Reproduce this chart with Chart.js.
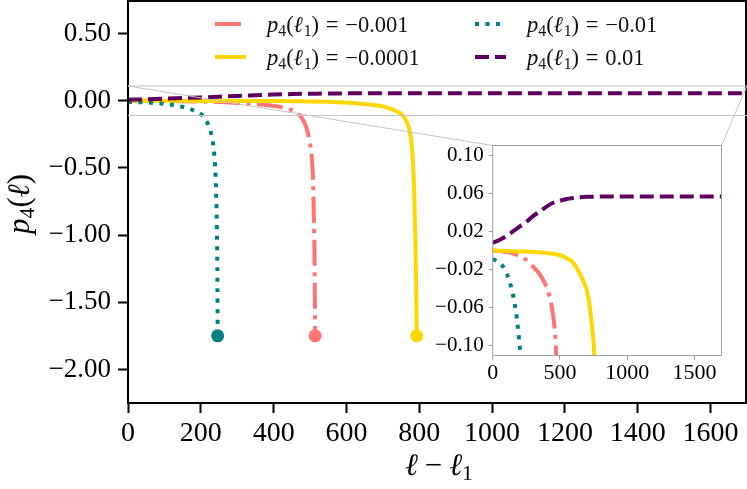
<!DOCTYPE html>
<html><head><meta charset="utf-8">
<script src="https://cdn.jsdelivr.net/npm/chart.js@4"></script>
<style>
html,body{margin:0;padding:0;background:#fff;}
#wrap{position:relative;width:747px;height:489px;overflow:hidden;}
canvas{position:absolute;left:0;top:0;}
</style></head><body>
<div id="wrap"><canvas id="main" width="747" height="489"></canvas><canvas id="inset" width="747" height="489"></canvas></div>
<script>
// ---------- data ----------
const xTicks = [0, 200, 400, 600, 800, 1000, 1200, 1400, 1600];
const xTickLabels = ['0', '200', '400', '600', '800', '1000', '1200', '1400', '1600'];
const yTicks = [-2, -1.5, -1, -0.5, 0, 0.5];
const yTickLabels = ['\u22122.00', '\u22121.50', '\u22121.00', '\u22120.50', '0.00', '0.50'];
const insetXTicks = [0, 500, 1000, 1500];
const insetXTickLabels = ['0', '500', '1000', '1500'];
const insetYTicks = [-0.10, -0.06, -0.02, 0.02, 0.06, 0.10];
const insetYTickLabels = ['\u22120.10', '\u22120.06', '\u22120.02', '0.02', '0.06', '0.10'];

const legendValues = ['\u22120.001', '\u22120.0001', '\u22120.01', '0.01'];

// p4(l1) = -0.001
const pinkX = [0, 50, 100, 150, 200, 250, 300, 350, 390, 420, 440, 455, 465, 475, 485, 494, 500, 505, 508, 510, 512, 513, 514];
const pinkY = [0, -0.0005, -0.0015, -0.003, -0.006, -0.01, -0.017, -0.025, -0.035, -0.047, -0.06, -0.075, -0.09, -0.12, -0.165, -0.24, -0.32, -0.43, -0.58, -0.8, -1.1, -1.4, -1.75];
// p4(l1) = -0.0001
const yellowX = [0, 100, 200, 300, 400, 450, 500, 550, 600, 650, 680, 700, 720, 740, 755, 765, 772, 778, 783, 786, 789, 791, 792.3, 793];
const yellowY = [0, -0.0005, -0.001, -0.0015, -0.0025, -0.0035, -0.005, -0.008, -0.013, -0.025, -0.034, -0.042, -0.058, -0.082, -0.11, -0.155, -0.21, -0.3, -0.48, -0.68, -1.0, -1.3, -1.55, -1.75];
// p4(l1) = -0.01
const tealX = [0, 30, 60, 90, 120, 145, 165, 180, 195, 205, 214, 222, 228, 235, 239, 242, 244, 245.5, 246.3];
const tealY = [-0.009, -0.011, -0.014, -0.02, -0.03, -0.043, -0.057, -0.072, -0.092, -0.11, -0.145, -0.19, -0.24, -0.35, -0.48, -0.68, -0.95, -1.3, -1.75];
// p4(l1) = 0.01
const purpleX = [0, 50, 100, 150, 200, 250, 300, 350, 400, 450, 500, 550, 600, 650, 700, 800, 900, 1000, 1200, 1400, 1700];
const purpleY = [0.008, 0.011, 0.015, 0.02, 0.025, 0.03, 0.036, 0.041, 0.046, 0.05, 0.052, 0.054, 0.055, 0.0558, 0.0562, 0.0565, 0.0566, 0.0566, 0.0566, 0.0566, 0.0566];
// end points (blow-up markers)
const endX = [246.3, 514, 793];
const endY = [-1.75, -1.75, -1.75];

// ---------- styles ----------
const PINK = '#ff7474', YELLOW = '#ffd700', TEAL = '#008080', PURPLE = '#5f0060';
const FAM = "'Liberation Serif', 'DejaVu Serif', serif";
const LW = 4;
const DASH = { pink: [26, 6.5, 4, 6.5], yellow: [], teal: [4, 6.5], purple: [14, 6] };

const pts = (xs, ys) => xs.map((x, i) => ({ x: x, y: ys[i] }));

function lineSet(xs, ys, color, dash, order) {
  return { data: pts(xs, ys), showLine: true, borderColor: color, borderWidth: LW, borderDash: dash,
    pointRadius: 0, fill: false, cubicInterpolationMode: 'monotone', order: order };
}

// parts: [text, style]; style 'i' italic, 's' subscript, 'n' normal, 'g' gap (text = em)
function drawMath(ctx, parts, x, y, size, align) {
  let w = 0;
  const items = parts.map(([t, s]) => {
    if (s === 'g') { const tw = t * size; w += tw; return { t: '', font: null, tw, dy: 0 }; }
    const fs = s === 's' ? size * 0.7 : size;
    const font = (s === 'i' ? 'italic ' : '') + fs + 'px ' + FAM;
    ctx.font = font;
    const tw = ctx.measureText(t).width;
    w += tw;
    return { t, font, tw, dy: s === 's' ? size * 0.16 : 0 };
  });
  let cx = align === 'center' ? x - w / 2 : x;
  ctx.textAlign = 'left'; ctx.textBaseline = 'alphabetic';
  items.forEach(it => { if (it.font) { ctx.font = it.font; ctx.fillText(it.t, cx, y + it.dy); } cx += it.tw; });
}

const mainDeco = {
  id: 'mainDeco',
  afterDraw(chart) {
    const ctx = chart.ctx, a = chart.chartArea;
    ctx.save();
    // frame
    ctx.strokeStyle = '#000'; ctx.lineWidth = 2; ctx.setLineDash([]);
    ctx.strokeRect(a.left, a.top + 1, a.right - a.left - 1, a.bottom - a.top - 1);
    ctx.fillStyle = '#000';
    // axis titles
    drawMath(ctx, [['\u2113', 'i'], [0.22, 'g'], ['\u2212', 'n'], [0.22, 'g'], ['\u2113', 'i'], ['1', 's']], 439, 475, 31, 'center');
    ctx.save(); ctx.translate(29, 204); ctx.rotate(-Math.PI / 2);
    drawMath(ctx, [['p', 'i'], ['4', 's'], ['(', 'n'], ['\u2113', 'i'], [')', 'n']], 0, 0, 31, 'center');
    ctx.restore();
    // legend
    const entries = [
      { c: PINK, d: DASH.pink, x: 215, y: 24, v: legendValues[0] },
      { c: YELLOW, d: DASH.yellow, x: 215, y: 57, v: legendValues[1] },
      { c: TEAL, d: DASH.teal, x: 475, y: 24, v: legendValues[2] },
      { c: PURPLE, d: DASH.purple, x: 475, y: 57, v: legendValues[3] }
    ];
    entries.forEach(e => {
      ctx.strokeStyle = e.c; ctx.lineWidth = LW; ctx.lineCap = 'butt'; ctx.setLineDash(e.d);
      ctx.beginPath(); ctx.moveTo(e.x, e.y); ctx.lineTo(e.x + 31, e.y); ctx.stroke();
      ctx.setLineDash([]);
      ctx.fillStyle = '#111';
      const val = e.v.startsWith('\u2212') ? [['\u2212', 'n'], [e.v.slice(1), 'n']] : [[e.v, 'n']];
      drawMath(ctx, [['p', 'i'], ['4', 's'], ['(', 'n'], ['\u2113', 'i'], [0.03, 'g'], ['1', 's'], [')', 'n'],
        [0.3, 'g'], ['=', 'n'], [0.3, 'g']].concat(val), e.x + 52, e.y + 8, 22.5, 'left');
    });
    ctx.restore();
  }
};

const mainChart = new Chart(document.getElementById('main'), {
  type: 'scatter',
  data: { datasets: [
    lineSet(pinkX, pinkY, PINK, DASH.pink, 4),
    lineSet(yellowX, yellowY, YELLOW, DASH.yellow, 3),
    lineSet(tealX, tealY, TEAL, DASH.teal, 2),
    lineSet(purpleX, purpleY, PURPLE, DASH.purple, 1),
    { data: pts(endX, endY), showLine: false, pointRadius: 6.5, pointHoverRadius: 6.5, borderWidth: 0,
      backgroundColor: [TEAL, PINK, YELLOW], pointBackgroundColor: [TEAL, PINK, YELLOW], order: 0 }
  ] },
  options: {
    responsive: false, animation: false, devicePixelRatio: 1,
    layout: { autoPadding: false, padding: { left: 0, right: 0, top: 0, bottom: 0 } },
    plugins: { legend: { display: false }, tooltip: { enabled: false } },
    scales: {
      x: { type: 'linear', min: 0, max: 1700,
        afterBuildTicks: s => { s.ticks = xTicks.map(v => ({ value: v })); },
        afterFit: s => { s.height = 86; s.paddingLeft = 0; s.paddingRight = 0; },
        grid: { drawOnChartArea: false, drawTicks: true, tickLength: 10, tickWidth: 2, tickColor: '#000' },
        border: { display: false },
        ticks: { autoSkip: false, maxRotation: 0, padding: 4, color: '#000', font: { family: FAM, size: 28 },
          callback: (v, i) => xTickLabels[i] } },
      y: { type: 'linear', min: -2.25, max: 0.75,
        afterBuildTicks: s => { s.ticks = yTicks.map(v => ({ value: v })); },
        afterFit: s => { s.width = 128; s.paddingTop = 0; s.paddingBottom = 0; },
        grid: { drawOnChartArea: false, drawTicks: true, tickLength: 10, tickWidth: 2, tickColor: '#000' },
        border: { display: false },
        ticks: { autoSkip: false, padding: 7, color: '#000', font: { family: FAM, size: 27 },
          callback: (v, i) => yTickLabels[i] } }
    }
  },
  plugins: [mainDeco]
});

const insetDeco = {
  id: 'insetDeco',
  beforeDraw(chart) {
    const ctx = chart.ctx, a = chart.chartArea;
    const mx = mainChart.scales.x, my = mainChart.scales.y;
    const x0 = mx.getPixelForValue(0), x1 = mx.getPixelForValue(1700);
    const yt = my.getPixelForValue(0.11), yb = my.getPixelForValue(-0.11);
    ctx.save();
    ctx.strokeStyle = '#c4c4c4'; ctx.lineWidth = 1;
    ctx.beginPath();
    ctx.moveTo(x0, yt); ctx.lineTo(x1, yt);
    ctx.moveTo(x0, yb); ctx.lineTo(x1, yb);
    ctx.moveTo(x0, yt); ctx.lineTo(a.left, a.top);
    ctx.moveTo(x1, yt); ctx.lineTo(a.right, a.top);
    ctx.stroke();
    ctx.fillStyle = '#fff';
    ctx.fillRect(a.left, a.top, a.right - a.left, a.bottom - a.top);
    ctx.restore();
  },
  afterDraw(chart) {
    const ctx = chart.ctx, a = chart.chartArea;
    ctx.save();
    ctx.strokeStyle = '#a0a0a0'; ctx.lineWidth = 1;
    ctx.strokeRect(a.left, a.top, a.right - a.left, a.bottom - a.top);
    ctx.restore();
  }
};

const insetChart = new Chart(document.getElementById('inset'), {
  type: 'scatter',
  data: { datasets: [
    lineSet(pinkX, pinkY, PINK, DASH.pink, 4),
    lineSet(yellowX, yellowY, YELLOW, DASH.yellow, 3),
    lineSet(tealX, tealY, TEAL, DASH.teal, 2),
    lineSet(purpleX, purpleY, PURPLE, DASH.purple, 1)
  ] },
  options: {
    responsive: false, animation: false, devicePixelRatio: 1,
    layout: { autoPadding: false, padding: { left: 432.7, right: 25.5, top: 145.5, bottom: 103.5 } },
    plugins: { legend: { display: false }, tooltip: { enabled: false } },
    scales: {
      x: { type: 'linear', min: 0, max: 1700,
        afterBuildTicks: s => { s.ticks = insetXTicks.map(v => ({ value: v })); },
        afterFit: s => { s.height = 30; s.paddingLeft = 0; s.paddingRight = 0; },
        grid: { drawOnChartArea: false, drawTicks: true, tickLength: 4, tickWidth: 1, tickColor: '#999' },
        border: { display: false },
        ticks: { autoSkip: false, maxRotation: 0, padding: 1, color: '#000', font: { family: FAM, size: 22 },
          callback: (v, i) => insetXTickLabels[i] } },
      y: { type: 'linear', min: -0.11, max: 0.11,
        afterBuildTicks: s => { s.ticks = insetYTicks.map(v => ({ value: v })); },
        afterFit: s => { s.width = 60; s.paddingTop = 0; s.paddingBottom = 0; },
        grid: { drawOnChartArea: false, drawTicks: true, tickLength: 4, tickWidth: 1, tickColor: '#999' },
        border: { display: false },
        ticks: { autoSkip: false, padding: 5, color: '#000', font: { family: FAM, size: 21 },
          callback: (v, i) => insetYTickLabels[i] } }
    }
  },
  plugins: [insetDeco]
});
</script>
</body></html>
